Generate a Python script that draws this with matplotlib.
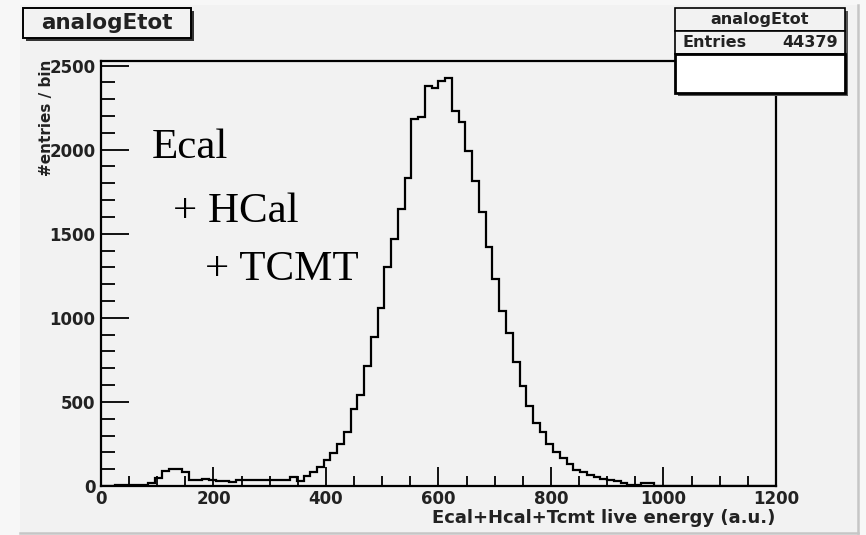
import numpy as np
import matplotlib
matplotlib.use("Agg")
import matplotlib.pyplot as plt
from matplotlib.patches import Rectangle
from matplotlib.lines import Line2D
from matplotlib.ticker import MultipleLocator

# Histogram: 100 bins of width 12 over 0..1200
bin_edges = np.linspace(0, 1200, 101)
counts = [
    0, 0, 3, 3, 3, 3, 4, 18, 50, 88,
    101, 101, 82, 33, 33, 43, 38, 30, 30, 22,
    33, 33, 33, 33, 38, 38, 38, 38, 52, 29,
    58, 82, 112, 152, 195, 251, 324, 455, 542, 712,
    885, 1057, 1301, 1470, 1648, 1832, 2183, 2193, 2377, 2365,
    2411, 2427, 2228, 2163, 1990, 1812, 1628, 1420, 1232, 1043,
    908, 736, 597, 473, 373, 320, 251, 205, 168, 132,
    98, 82, 67, 52, 40, 37, 27, 17, 7, 3,
    15, 15, 1, 1, 0, 0, 0, 0, 0, 0,
    0, 0, 0, 0, 0, 0, 0, 0, 0, 0,
]
hist_name = "analogEtot"
entries = 44379
x_label = "Ecal+Hcal+Tcmt live energy (a.u.)"
y_label = "#entries / bin"
note_lines = ["Ecal", "+ HCal", "+ TCMT"]

W, H = 866, 535
fig = plt.figure(figsize=(W / 100, H / 100), dpi=100)
fig.patch.set_facecolor("#f7f7f7")


def fx(x):
    return x / W


def fy(y):
    return 1 - y / H


def prect(x0, y0, x1, y1, **kw):
    return Rectangle((fx(x0), fy(y1)), (x1 - x0) / W, (y1 - y0) / H,
                     transform=fig.transFigure, **kw)


# canvas pad with a soft border on the right/bottom
fig.add_artist(prect(20, 5, 858, 533, facecolor="#f2f2f2", edgecolor="none", zorder=-10))
fig.add_artist(Line2D([fx(858), fx(858)], [fy(5), fy(533)], transform=fig.transFigure,
                      color="#c6c6c6", lw=1.8, zorder=-9))
fig.add_artist(Line2D([fx(20), fx(858)], [fy(533), fy(533)], transform=fig.transFigure,
                      color="#c6c6c6", lw=1.8, zorder=-9))

ax = fig.add_axes([fx(101), fy(486), (776 - 101) / W, (486 - 61) / H])
ax.set_facecolor("#f2f2f2")
ax.stairs(counts, bin_edges, color="black", lw=1.6)
ax.set_xlim(0, 1200)
ax.set_ylim(0, 2527)

for side in ["left", "bottom", "right", "top"]:
    ax.spines[side].set_linewidth(1.6)
    ax.spines[side].set_color("black")

ax.xaxis.set_major_locator(MultipleLocator(200))
ax.xaxis.set_minor_locator(MultipleLocator(50))
ax.yaxis.set_major_locator(MultipleLocator(500))
ax.yaxis.set_minor_locator(MultipleLocator(100))
ax.tick_params(axis="x", which="major", direction="in", length=14, width=1.3, pad=3)
ax.tick_params(axis="x", which="minor", direction="in", length=7, width=1.3)
ax.tick_params(axis="y", which="major", direction="in", length=20, width=1.3, pad=4)
ax.tick_params(axis="y", which="minor", direction="in", length=10, width=1.3)
for lab in ax.get_xticklabels() + ax.get_yticklabels():
    lab.set_fontfamily("DejaVu Sans")
    lab.set_fontweight("bold")
    lab.set_fontsize(12)
    lab.set_color("#222222")

# axis titles
fig.text(fx(775), fy(518), x_label, ha="right", va="center", fontfamily="DejaVu Sans",
         fontweight="bold", fontsize=13, color="#222222")
fig.text(fx(46), fy(60), y_label, ha="center", va="top", rotation=90,
         fontfamily="DejaVu Sans", fontweight="bold", fontsize=11, color="#222222")

# annotation in serif
for (txt, x, yb) in zip(note_lines, [152, 173, 205], [158, 222, 280]):
    fig.text(fx(x), fy(yb), txt, ha="left", va="baseline", fontfamily="Liberation Serif",
             fontsize=31, color="black")

# title box
fig.add_artist(prect(26, 11, 194, 41, facecolor="#333333", edgecolor="none", zorder=4))
fig.add_artist(prect(23, 8, 191, 38, facecolor="#f2f2f2", edgecolor="black", lw=1.4, zorder=5))
fig.text(fx(107), fy(23), hist_name, ha="center", va="center", fontfamily="DejaVu Sans",
         fontweight="bold", fontsize=15.5, color="#222222", zorder=6)

# statistics box
fig.add_artist(prect(678, 11, 848, 96, facecolor="#555555", edgecolor="none", zorder=4))
fig.add_artist(prect(675, 8, 845, 31, facecolor="#f2f2f2", edgecolor="black", lw=1.2, zorder=5))
fig.add_artist(prect(675, 31, 845, 54, facecolor="#f2f2f2", edgecolor="black", lw=1.2, zorder=5))
fig.add_artist(prect(675, 54, 845, 93, facecolor="white", edgecolor="black", lw=2.0, zorder=5))
fig.text(fx(760), fy(19.5), hist_name, ha="center", va="center", fontfamily="DejaVu Sans",
         fontweight="bold", fontsize=11.5, color="#222222", zorder=6)
fig.text(fx(682), fy(42.5), "Entries", ha="left", va="center", fontfamily="DejaVu Sans",
         fontweight="bold", fontsize=11.5, color="#222222", zorder=6)
fig.text(fx(838), fy(42.5), f"{entries}", ha="right", va="center", fontfamily="DejaVu Sans",
         fontweight="bold", fontsize=11.5, color="#222222", zorder=6)

fig.savefig("out.png", dpi=100, facecolor=fig.get_facecolor())
